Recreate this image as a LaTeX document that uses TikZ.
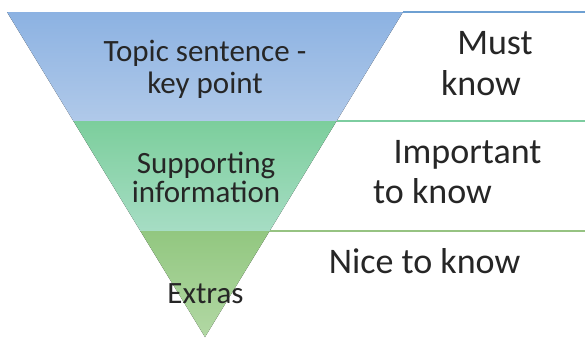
\documentclass[tikz,border=0pt]{standalone}
\usepackage{fontspec}
\setmainfont{Carlito}
\begin{document}
\begin{tikzpicture}[x=1pt,y=-1pt,
  lefttext/.style={anchor=base,inner sep=0pt,text=black!85,font=\fontsize{31}{31}\selectfont},
  righttext/.style={anchor=base,inner sep=0pt,text=black!85,font=\fontsize{36}{36}\selectfont},
  divider/.style={line width=1.3pt}]
\useasboundingbox (0,0) rectangle (585,338);
\fill[white] (0,0) rectangle (585,338);

% funnel bands, top to bottom
\fill[top color={rgb,255:red,140;green,178;blue,226}, bottom color={rgb,255:red,176;green,201;blue,233}]
  (7,12) -- (403,12) -- (336.6,121) -- (73.4,121) -- cycle;
\fill[top color={rgb,255:red,124;green,206;blue,156}, bottom color={rgb,255:red,166;green,221;blue,196}]
  (73.4,121) -- (336.6,121) -- (269.6,231) -- (140.4,231) -- cycle;
\fill[top color={rgb,255:red,146;green,199;blue,128}, bottom color={rgb,255:red,178;green,216;blue,164}]
  (140.4,231) -- (269.6,231) -- (205,337) -- cycle;

% level dividers on the right
\coordinate (d1a) at (403,12);   \coordinate (d1b) at (585,12);
\coordinate (d2a) at (336.6,121); \coordinate (d2b) at (585,121);
\coordinate (d3a) at (269.6,231); \coordinate (d3b) at (585,231);
\draw[divider,draw={rgb,255:red,110;green,160;blue,210}] (d1a) -- (d1b);
\draw[divider,draw={rgb,255:red,125;green,205;blue,160}] (d2a) -- (d2b);
\draw[divider,draw={rgb,255:red,150;green,195;blue,130}] (d3a) -- (d3b);

% labels inside the funnel
\node[lefttext] (t1) at (205,61) {Topic sentence -};
\node[lefttext] (t2) at (205,93) {key point};
\node[lefttext] (s1) at (206,173) {Supporting};
\node[lefttext] (s2) at (206,202) {information};
\node[lefttext] (e1) at (205.5,303) {Extras};

% labels on the right
\node[righttext] (m1) at (495,54) {Must};
\node[righttext] (m2) at (481,95) {know};
\node[righttext] (i1) at (467.5,163) {Important};
\node[righttext,anchor=base west] (i2) at (373,203) {to know};
\node[righttext] (n1) at (424.5,273) {Nice to know};
\end{tikzpicture}
\end{document}
